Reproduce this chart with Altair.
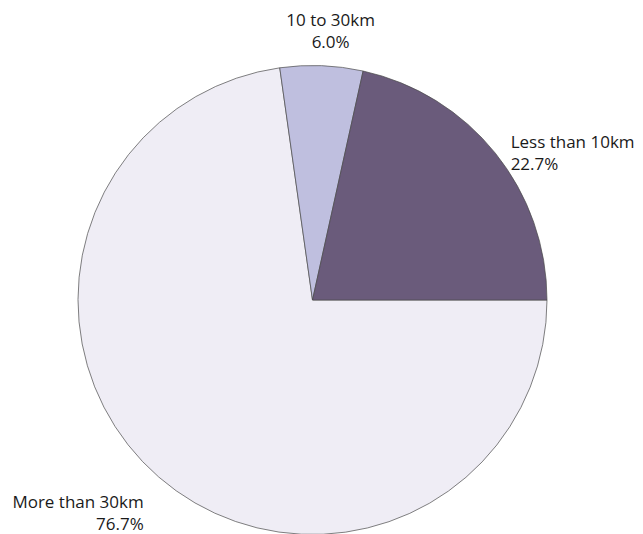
import math
import altair as alt
import pandas as pd

labels = ["More than 30km", "10 to 30km", "Less than 10km"]
values = [76.7, 6.0, 22.7]
order = [0, 1, 2]
colors = ["#efedf5", "#bfbfdf", "#6a5b7b"]

df = pd.DataFrame({"label": labels, "value": values, "ord": order})

cx, cy = 304.5, 292

base = alt.Chart(df).encode(
    theta=alt.Theta(
        "value:Q",
        stack=True,
        scale=alt.Scale(range=[math.pi / 2, math.pi / 2 + 2 * math.pi]),
    ),
    order=alt.Order("ord:Q"),
    x=alt.value(cx),
    y=alt.value(cy),
)

pie = base.mark_arc(radius=234.5, stroke="#4a4a4a", strokeWidth=0.7).encode(
    color=alt.Color(
        "label:N", scale=alt.Scale(domain=labels, range=colors), legend=None
    )
)


def label_layer(name, align, radius, dx, dy):
    return (
        base.transform_calculate(
            txt=f"datum.label == '{name}' ? [datum.label, format(datum.value, '.1f') + '%'] : ''"
        )
        .mark_text(
            radius=radius,
            align=align,
            baseline="alphabetic",
            dx=dx,
            dy=dy,
            font="Open Sans",
            fontSize=17,
            lineHeight=21.5,
            color="#1a1a1a",
        )
        .encode(text="txt:N")
    )


chart = (
    alt.layer(
        pie,
        label_layer("Less than 10km", "left", 249, 4, 4),
        label_layer("10 to 30km", "center", 274, 7.5, 0),
        label_layer("More than 30km", "right", 268, 7, 6),
    )
    .properties(
        width=627,
        height=526,
        padding=0,
        autosize=alt.AutoSizeParams(type="none"),
        background="white",
    )
    .configure_view(stroke=None)
)

chart.save("out.html", embed_options={"renderer": "svg", "actions": False})
